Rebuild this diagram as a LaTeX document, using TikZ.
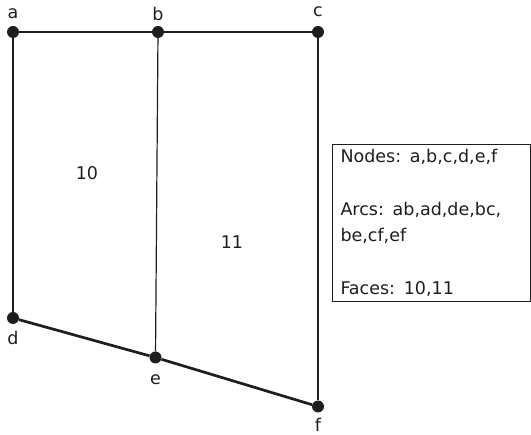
\documentclass[tikz,border=0pt]{standalone}
\usepackage{fontspec}
\setmainfont{DejaVu Sans}
\usetikzlibrary{positioning}
\definecolor{inkdark}{RGB}{30, 30, 30}

\begin{document}
\begin{tikzpicture}[x=1pt, y=-1pt,
    vertex/.style={circle, fill=inkdark, inner sep=0pt, minimum size=12pt},
    vlabel/.style={font=\fontsize{17.5}{20}\selectfont, text=inkdark, inner sep=0pt},
    arc/.style={draw=inkdark, line width=2.7pt},
    thinarc/.style={draw=inkdark, line width=1.2pt},
    infobox/.style={draw=inkdark, line width=1pt, anchor=north west,
                 minimum width=198pt, minimum height=157pt, align=left,
                 text width=182pt, inner xsep=8pt, text=inkdark,
                 font=\fontsize{17.5}{26.5}\selectfont}
]
    \useasboundingbox (0,0) rectangle (531,435);

    % Nodes
    \node[vertex] (a) at (13,32) {};
    \node[vertex] (b) at (158,32) {};
    \node[vertex] (c) at (318,32) {};
    \node[vertex] (d) at (13,318) {};
    \node[vertex] (e) at (155.5,357.5) {};
    \node[vertex] (f) at (318,406.5) {};

    \node[vlabel] (la) at (13,14) {a};
    \node[vlabel] (lb) at (158,14) {b};
    \node[vlabel] (lc) at (318,12) {c};
    \node[vlabel] (ld) at (13,338) {d};
    \node[vlabel] (le) at (155.5,380) {e};
    \node[vlabel] (lf) at (318,425) {f};

    % Faces
    \node[vlabel] (f10) at (87,173) {10};
    \node[vlabel] (f11) at (232,242) {11};

    % Arcs
    \draw[arc] (a) -- (b);
    \draw[arc] (b) -- (c);
    \draw[arc] (a) -- (d);
    \draw[arc] (d) -- (e);
    \draw[arc] (e) -- (f);
    \draw[arc] (c) -- (f);
    \draw[thinarc] (b) -- (e);

    \node[infobox] (info) at (332,144) {
        Nodes: a,b,c,d,e,f\\
        \mbox{}\\
        Arcs: ab,ad,de,bc,\\
        be,cf,ef\\
        \mbox{}\\
        Faces: 10,11
    };
\end{tikzpicture}
\end{document}
